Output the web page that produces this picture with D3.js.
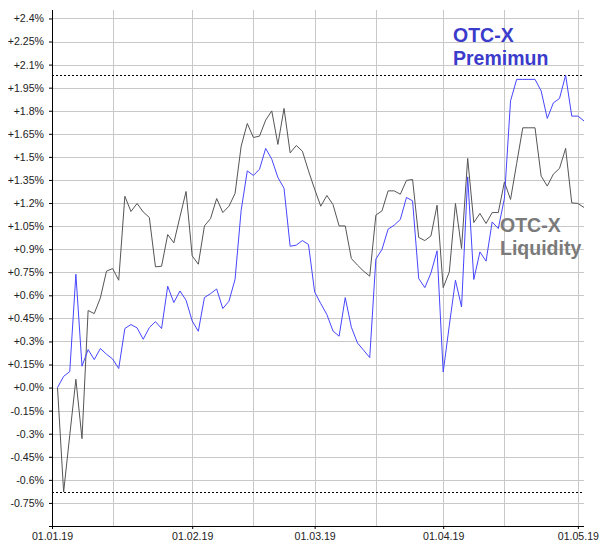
<!DOCTYPE html>
<html>
    <head>
        <title>OTC-X Index Chart</title>
        <script src="https://d3js.org/d3.v7.min.js"></script>
        <style>
            body { margin:0; background:#fff; }
            svg {
                width: 600px;
                height: 550px;
            }
            .tick text {
                font-family: "Liberation Sans", Arial, sans-serif;
                font-size: 10.6px;
                fill: #222;
            }
            .grid line { stroke:#c8c8c8; stroke-width:1px; }
            .legend {
                font-family: "Liberation Sans", Arial, sans-serif;
                font-size: 19.5px;
                font-weight: bold;
            }
        </style>
    </head>
    <body>
        <svg id="chartSvg"></svg>
    </body>
    <script>
        // 1. Data: daily index points (trading days), values in percent.
        const premium = [
            0, 0.073, 0.104, 0.737, 0.139, 0.247, 0.182, 0.254, 0.217, 0.186,
            0.124, 0.384, 0.41, 0.388, 0.314, 0.39, 0.429, 0.384, 0.659, 0.553,
            0.628, 0.568, 0.433, 0.366, 0.585, 0.611, 0.641, 0.514, 0.561, 0.704,
            1.153, 1.409, 1.379, 1.42, 1.555, 1.485, 1.366, 1.296, 0.919, 0.926,
            0.956, 0.93, 0.622, 0.546, 0.475, 0.368, 0.334, 0.585, 0.392, 0.29,
            0.243, 0.195, 0.835, 0.898, 1.03, 1.056, 1.093, 1.236, 1.214, 0.709,
            0.65, 0.745, 0.889, 0.101, 0.405, 0.698, 0.524, 1.37, 0.703, 0.882,
            0.822, 1.077, 1.034, 1.23, 1.864, 2.004, 2.004, 2.004, 2.004, 1.929,
            1.75, 1.851, 1.88, 2.031, 1.765, 1.765, 1.734
        ];
        const liquidity = [
            0, -0.679, -0.31, 0.054, -0.332, 0.501, 0.481, 0.583, 0.757, 0.774,
            0.698, 1.244, 1.145, 1.197, 1.142, 1.106, 0.785, 0.789, 0.995, 0.941,
            1.11, 1.275, 0.856, 0.802, 1.051, 1.099, 1.229, 1.138, 1.179, 1.262,
            1.57, 1.717, 1.626, 1.635, 1.739, 1.799, 1.581, 1.815, 1.526, 1.574,
            1.537, 1.409, 1.29, 1.179, 1.249, 1.19, 1.051, 1.051, 0.839, 0.796,
            0.757, 0.724, 1.121, 1.149, 1.279, 1.279, 1.257, 1.347, 1.353, 0.976,
            0.956, 0.986, 1.186, 0.65, 0.752, 1.197, 0.904, 1.49, 1.073, 1.132,
            1.067, 1.138, 1.138, 1.337, 1.223, 1.457, 1.689, 1.689, 1.689, 1.375,
            1.31, 1.388, 1.425, 1.555, 1.201, 1.197, 1.171
        ];
        // Month labels and where they sit (in trading-day index units).
        const xLabels = ['01.01.19', '01.02.19', '01.03.19', '01.04.19', '01.05.19'];
        const xLabelIdx = [-0.9, 22, 42, 63, 85];
        // Vertical grid lines (trading-day index).
        const xGridIdx = [9, 22, 32, 42, 52, 63, 73, 85];
        // Y ticks: -0.9% .. +2.4% in steps of 0.15%.
        const yTicks = d3.range(-0.9, 2.4001, 0.15).map(v => Math.round(v * 100) / 100);

        // 2. Dimensions.
        const svg = d3.select('#chartSvg');
        const margin = { top: 10, bottom: 24, right: 16, left: 52 };
        const innerWidth = 600 - margin.left - margin.right;
        const innerHeight = 550 - margin.top - margin.bottom;

        const g = svg.append('g')
            .attr('transform', `translate(${margin.left},${margin.top})`);

        // 3. Scales.
        const xScale = d3.scaleLinear()
            .domain([-0.9, premium.length - 1])
            .range([0, innerWidth]);
        const yScale = d3.scaleLinear()
            .domain([-0.9, 2.455])
            .range([innerHeight, 0]);

        // 4. Grid lines.
        g.append('g').attr('class', 'grid')
            .selectAll('line')
            .data(yTicks.filter(v => v > -0.9))
            .enter().append('line')
                .attr('x1', 0).attr('x2', innerWidth)
                .attr('y1', d => Math.round(yScale(d)) + 0.5)
                .attr('y2', d => Math.round(yScale(d)) + 0.5);
        g.append('g').attr('class', 'grid')
            .selectAll('line')
            .data(xGridIdx)
            .enter().append('line')
                .attr('y1', 0).attr('y2', innerHeight)
                .attr('x1', d => Math.round(xScale(d)) + 0.5)
                .attr('x2', d => Math.round(xScale(d)) + 0.5);

        // 5. Dotted min / max lines.
        const all = premium.concat(liquidity);
        [d3.min(all), d3.max(all)].forEach(v => {
            g.append('line')
                .attr('x1', 0).attr('x2', innerWidth)
                .attr('y1', Math.round(yScale(v)) + 0.5)
                .attr('y2', Math.round(yScale(v)) + 0.5)
                .attr('stroke', '#000')
                .attr('stroke-dasharray', '2,2');
        });

        // 6. Lines.
        const line = d3.line()
            .x((d, i) => xScale(i))
            .y(d => yScale(d));
        g.append('path')
            .datum(liquidity)
            .attr('fill', 'none')
            .attr('stroke', '#555')
            .attr('stroke-width', 1)
            .attr('d', line);
        g.append('path')
            .datum(premium)
            .attr('fill', 'none')
            .attr('stroke', '#4646ff')
            .attr('stroke-width', 1)
            .attr('d', line);

        // 7. Axes.
        const fmt = v => {
            if (v === 0) return '+0.0%';
            let s = String(Math.abs(v));
            return (v > 0 ? '+' : '-') + s + '%';
        };
        const yAxis = d3.axisLeft(yScale)
            .tickValues(yTicks)
            .tickSize(3)
            .tickPadding(5)
            .tickFormat(d => d === -0.9 ? '' : fmt(d));
        g.append('g').call(yAxis)
            .call(a => a.select('.domain').attr('stroke', '#000').attr('d', `M0.5,0V${innerHeight}`));

        const xAxis = d3.axisBottom(xScale)
            .tickValues(xLabelIdx)
            .tickSize(3)
            .tickPadding(3)
            .tickFormat((d, i) => xLabels[i]);
        g.append('g').call(xAxis)
            .attr('transform', `translate(0,${innerHeight})`)
            .call(a => a.select('.domain').attr('stroke', '#000').attr('d', `M0,0.5H${innerWidth}`));

        // 8. Series labels.
        const blueText = svg.append('text').attr('class', 'legend').attr('fill', '#3b3bcc')
            .attr('x', 453).attr('y', 42);
        blueText.append('tspan').attr('x', 453).attr('y', 42).text('OTC-X');
        blueText.append('tspan').attr('x', 453).attr('y', 65).text('Premimun');

        const grayText = svg.append('text').attr('class', 'legend').attr('fill', '#7a7a7a')
            .attr('x', 500).attr('y', 232);
        grayText.append('tspan').attr('x', 500).attr('y', 232).text('OTC-X');
        grayText.append('tspan').attr('x', 500).attr('y', 255).text('Liquidity');
    </script>
</html>
